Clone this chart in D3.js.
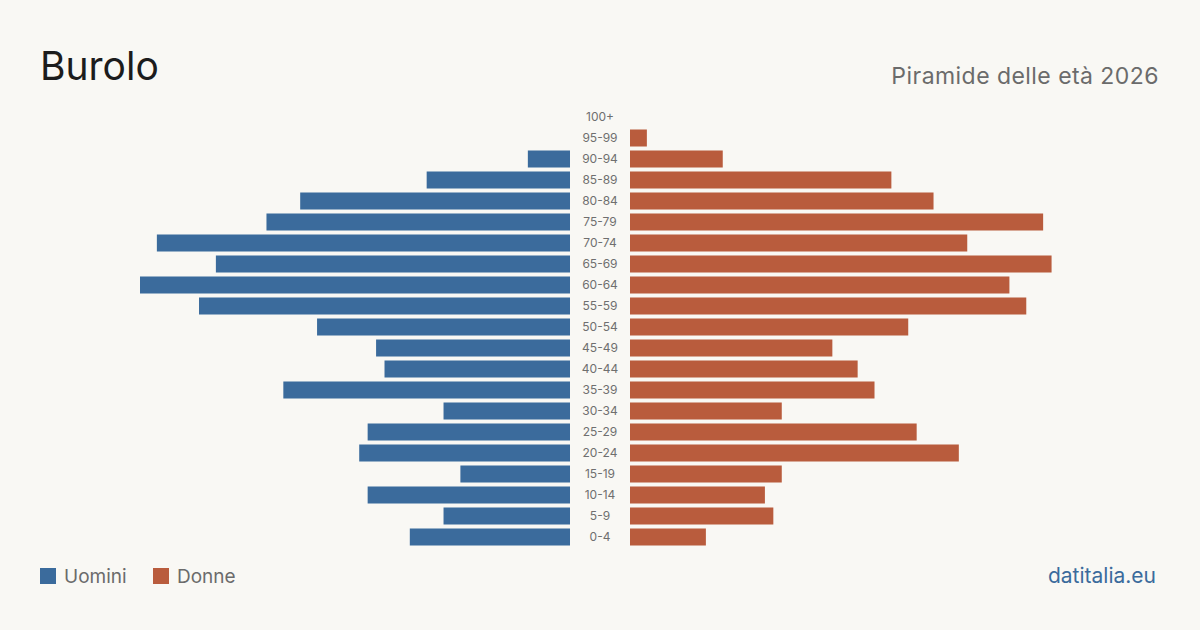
<!DOCTYPE html>
<html>
<head>
<meta charset="utf-8">
<script src="https://cdn.jsdelivr.net/npm/d3@7"></script>
<style>
  body { margin: 0; background: #f9f8f4; }
  svg { display: block; font-family: Inter, "Noto Sans", sans-serif; }
</style>
</head>
<body>
<svg id="chart"></svg>
<script>
// age classes, top to bottom
const ageGroups = ["100+", "95-99", "90-94", "85-89", "80-84", "75-79", "70-74", "65-69", "60-64", "55-59",
  "50-54", "45-49", "40-44", "35-39", "30-34", "25-29", "20-24", "15-19", "10-14", "5-9", "0-4"];
const men   = [0, 0, 5, 17, 32, 36, 49, 42, 51, 44, 30, 23, 22, 34, 15, 24, 25, 13, 24, 15, 19];
const women = [0, 2, 11, 31, 36, 49, 40, 50, 45, 47, 33, 24, 27, 29, 18, 34, 39, 18, 16, 17, 9];
const seriesNames = ["Uomini", "Donne"];
const seriesColors = ["#3b6b9c", "#b95c3d"];

const width = 1200, height = 630;
const centerL = 570, centerR = 630;

const svg = d3.select('#chart')
    .attr('width', width)
    .attr('height', height);

svg.append('rect').attr('width', width).attr('height', height).attr('fill', '#f9f8f4');

// title + subtitle
svg.append('text')
    .attr('x', 40).attr('y', 80)
    .attr('font-size', 39)
    .attr('fill', '#1c1c1c')
    .text("Burolo");

svg.append('text')
    .attr('x', 1159).attr('y', 84)
    .attr('text-anchor', 'end')
    .attr('font-size', 23)
    .attr('letter-spacing', 0.45)
    .attr('fill', '#6b6b6b')
    .text("Piramide delle età 2026");

const maxVal = d3.max(men.concat(women));

const xScale = d3.scaleLinear()
    .domain([0, maxVal])
    .range([0, 430]);

const yScale = d3.scaleBand()
    .domain(ageGroups)
    .range([106.5, 547.5])
    .paddingInner(0.19)
    .paddingOuter(0.095);

const rows = ageGroups.map((g, i) => ({ group: g, m: men[i], f: women[i] }));

// men, left side
svg.append('g').selectAll('rect')
  .data(rows)
  .join('rect')
    .attr('x', d => centerL - xScale(d.m))
    .attr('y', d => yScale(d.group))
    .attr('width', d => xScale(d.m))
    .attr('height', yScale.bandwidth())
    .attr('fill', seriesColors[0]);

// women, right side
svg.append('g').selectAll('rect')
  .data(rows)
  .join('rect')
    .attr('x', centerR)
    .attr('y', d => yScale(d.group))
    .attr('width', d => xScale(d.f))
    .attr('height', yScale.bandwidth())
    .attr('fill', seriesColors[1]);

// age labels in the middle
svg.append('g').selectAll('text')
  .data(ageGroups)
  .join('text')
    .attr('x', (centerL + centerR) / 2)
    .attr('y', d => yScale(d) + yScale.bandwidth() / 2)
    .attr('dy', '0.35em')
    .attr('text-anchor', 'middle')
    .attr('font-size', 12)
    .attr('fill', '#6f6f6f')
    .text(d => d);

// legend
const legend = svg.append('g').attr('transform', 'translate(40,576)');
const legendX = [0, 113];
seriesNames.forEach((name, i) => {
  legend.append('rect')
      .attr('x', legendX[i]).attr('y', -8)
      .attr('width', 16).attr('height', 16)
      .attr('fill', seriesColors[i]);
  legend.append('text')
      .attr('x', legendX[i] + 24).attr('y', 0)
      .attr('dy', '0.35em')
      .attr('font-size', 19)
      .attr('fill', '#6b6b6b')
      .text(name);
});

// source
svg.append('text')
    .attr('x', 1156).attr('y', 583)
    .attr('text-anchor', 'end')
    .attr('font-size', 21)
    .attr('fill', '#3b6b9c')
    .text("datitalia.eu");
</script>
</body>
</html>
